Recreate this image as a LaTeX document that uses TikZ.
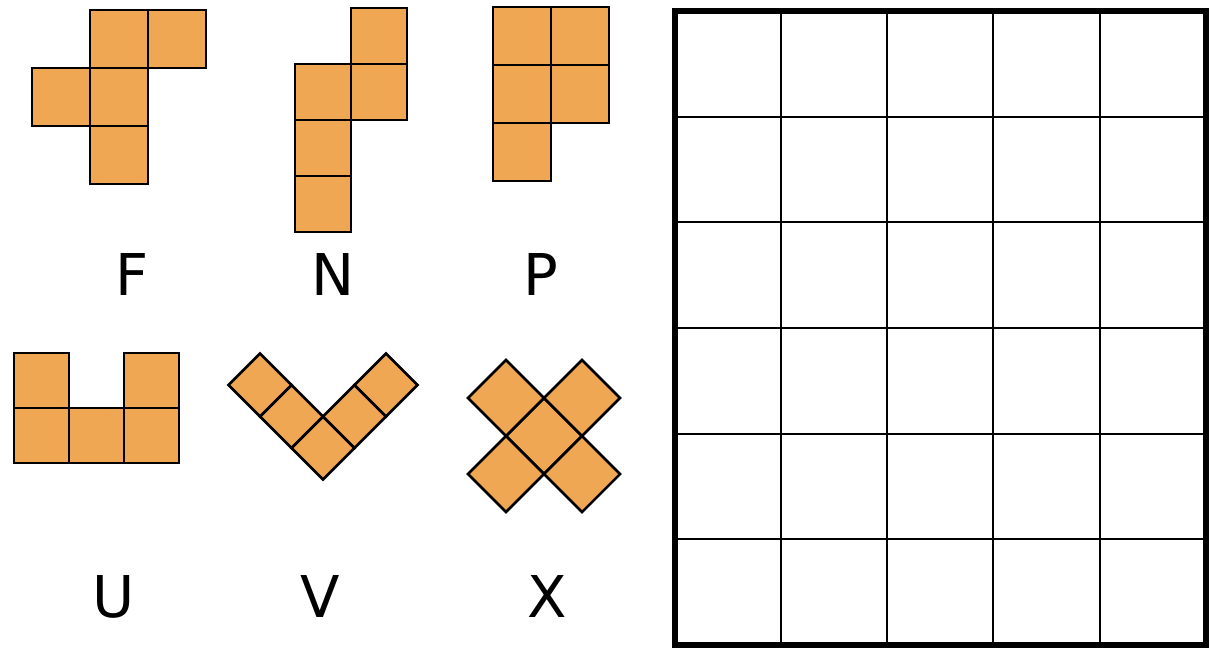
\documentclass[tikz,border=0pt]{standalone}
\usepackage{fontspec}
\setmainfont{DejaVu Sans}
\definecolor{tile}{RGB}{240,167,84}
\begin{document}
\begin{tikzpicture}[x=1pt,y=-1pt,
  cell/.style={fill=tile,draw=black,line width=2.5pt,line join=miter},
  lbl/.style={font=\fontsize{57.6}{60}\selectfont,anchor=base,inner sep=0pt},
  gridline/.style={line width=2pt},
  frame/.style={line width=6pt}]
\useasboundingbox (0,0) rectangle (1210,649);
% F
\foreach \i/\j in {1/0,2/0,0/1,1/1,1/2}
  \draw[cell] ({32+58*\i},{10+58*\j}) rectangle ++(58,58);
% N
\foreach \i/\j in {1/0,0/1,1/1,0/2,0/3}
  \draw[cell] ({295+56*\i},{8+56*\j}) rectangle ++(56,56);
% P
\foreach \i/\j in {0/0,1/0,0/1,1/1,0/2}
  \draw[cell] ({493+58*\i},{7+58*\j}) rectangle ++(58,58);
% U
\foreach \i/\j in {0/0,2/0,0/1,1/1,2/1}
  \draw[cell] ({14+55*\i},{353+55*\j}) rectangle ++(55,55);
% V
\foreach \cx/\cy in {323/448,291.5/416.5,260/385,354.5/416.5,386/385}
  \draw[cell] ({\cx-31.5},\cy) -- (\cx,{\cy-31.5}) -- ({\cx+31.5},\cy) -- (\cx,{\cy+31.5}) -- cycle;
% X
\foreach \cx/\cy in {544/436,506/398,582/398,506/474,582/474}
  \draw[cell] ({\cx-38},\cy) -- (\cx,{\cy-38}) -- ({\cx+38},\cy) -- (\cx,{\cy+38}) -- cycle;
% labels
\node[lbl] (lF) at (132,295) {F};
\node[lbl] (lN) at (333,295) {N};
\node[lbl] (lP) at (541,295) {P};
\node[lbl] (lU) at (114,617) {U};
\node[lbl] (lV) at (320,617) {V};
\node[lbl] (lX) at (547,617) {X};
% grid
\foreach \x in {781,887,993,1100}
  \draw[gridline] (\x,11) -- (\x,645);
\foreach \y in {117,222,328,434,539}
  \draw[gridline] (675,\y) -- (1206,\y);
\draw[frame] (675,11) rectangle (1206,645);
\end{tikzpicture}
\end{document}
